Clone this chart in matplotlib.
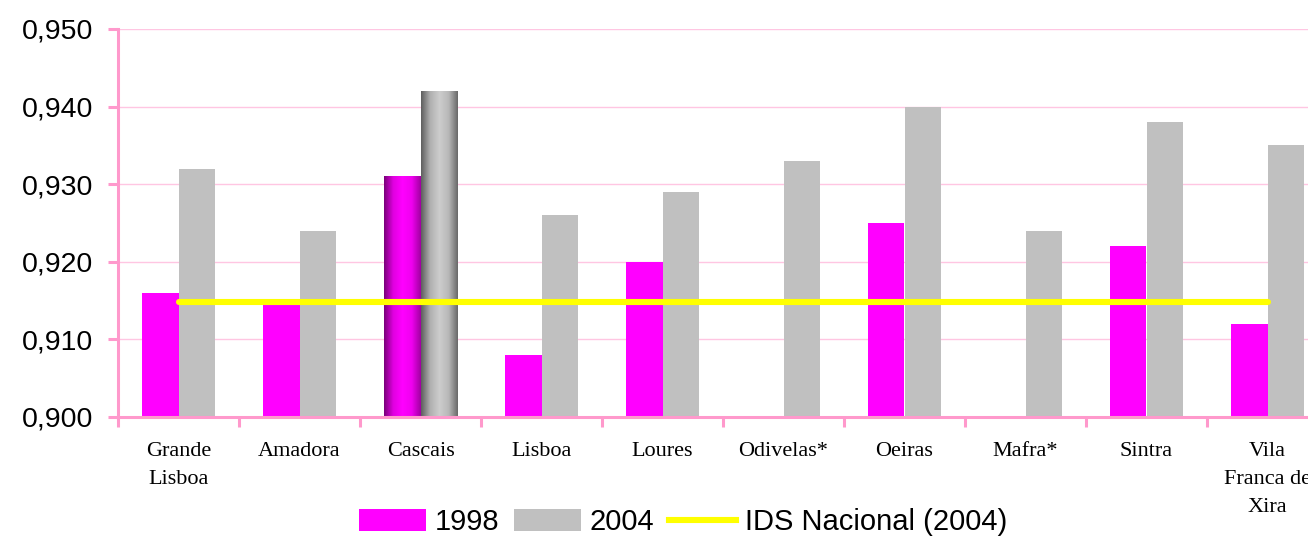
#!/usr/bin/env python3

import numpy as np
import matplotlib
matplotlib.use("Agg")
import matplotlib.pyplot as plt
from matplotlib.colors import LinearSegmentedColormap
from matplotlib.lines import Line2D

# data
categories = [
    "Grande\nLisboa", "Amadora", "Cascais", "Lisboa", "Loures",
    "Odivelas*", "Oeiras", "Mafra*", "Sintra", "Vila\nFranca de\nXira",
]
ids_1998 = [0.916, 0.915, 0.931, 0.908, 0.920, np.nan, 0.925, np.nan, 0.922, 0.912]
ids_2004 = [0.932, 0.924, 0.942, 0.926, 0.929, 0.933, 0.940, 0.924, 0.938, 0.935]
ids_nacional = [0.9148, 0.9148, 0.9148, 0.9148, 0.9148,
                0.9148, 0.9148, 0.9148, 0.9148, 0.9148]
y_ticks = [0.900, 0.910, 0.920, 0.930, 0.940, 0.950]
y_tick_labels = ["0,900", "0,910", "0,920", "0,930", "0,940", "0,950"]
highlight = "Cascais"

PINK = "#FF99CC"
GRID = "#FFC6E2"
MAGENTA = "#FF00FF"
GRAY = "#C0C0C0"


def gradient_fill(ax, bar, stops):
    # shaded fill over the bar, like the cylinder look in the original
    x0, y0 = bar.get_x(), max(bar.get_y(), ax.get_ylim()[0])
    w, top = bar.get_width(), bar.get_y() + bar.get_height()
    cmap = LinearSegmentedColormap.from_list("shade", stops)
    grad = np.linspace(0, 1, 256).reshape(1, -1)
    ax.imshow(grad, cmap=cmap, extent=[x0, x0 + w, y0, top],
              aspect="auto", zorder=bar.get_zorder() + 0.1,
              interpolation="bilinear")


fig = plt.figure(figsize=(13.08, 5.40), dpi=100)
ax = fig.add_axes([118 / 1308, 123 / 540, 1210 / 1308, 388 / 540])

x = np.arange(len(categories))
w = 0.3
b98 = ax.bar(x - w / 2, ids_1998, w, color=MAGENTA, zorder=2, label="1998")
b04 = ax.bar(x + w / 2, ids_2004, w, color=GRAY, zorder=2, label="2004")
line, = ax.plot(x, ids_nacional, color="#FFFF00", lw=4.4, zorder=4,
                solid_capstyle="round", label="IDS Nacional (2004)")

ax.set_xlim(-0.5, len(categories) - 0.5)
ax.set_ylim(y_ticks[0], y_ticks[-1])

i = categories.index(highlight)
gradient_fill(ax, b98[i], ["#780078", "#E000E0", "#FF00FF", "#F000F0", "#A000A0"])
gradient_fill(ax, b04[i], ["#5E5E5E", "#B0B0B0", "#CDCDCD", "#B8B8B8", "#686868"])

ax.set_xlim(-0.5, len(categories) - 0.5)
ax.set_ylim(y_ticks[0], y_ticks[-1])

ax.set_yticks(y_ticks)
ax.set_yticklabels(y_tick_labels, fontsize=20.5, family="Liberation Sans")
ax.tick_params(axis="y", length=7, width=2.2, color=PINK, pad=11)

ax.set_xticks(x)
ax.set_xticklabels(categories, fontsize=16, family="Liberation Serif",
                   linespacing=1.65)
ax.set_xticks(np.arange(-0.5, len(categories)), minor=True)
ax.tick_params(axis="x", which="major", length=0, pad=18)
ax.tick_params(axis="x", which="minor", length=7, width=2.2, color=PINK)

ax.yaxis.grid(True, color=GRID, lw=1)
ax.set_axisbelow(True)
for side in ["top", "right"]:
    ax.spines[side].set_visible(False)
for side in ["left", "bottom"]:
    ax.spines[side].set_color(PINK)
    ax.spines[side].set_linewidth(2.2)
    ax.spines[side].set_zorder(5)

handles = [b98, b04, Line2D([], [], color="#FFFF00", lw=4.4)]
fig.legend(handles, ["1998", "2004", "IDS Nacional (2004)"],
           loc="center", bbox_to_anchor=(683 / 1308, 18 / 540), ncol=3,
           frameon=False, prop={"family": "Liberation Sans", "size": 21},
           handlelength=2.3, handleheight=0.75, handletextpad=0.3,
           columnspacing=0.5, borderaxespad=0)

fig.savefig("out.png", dpi=100)
